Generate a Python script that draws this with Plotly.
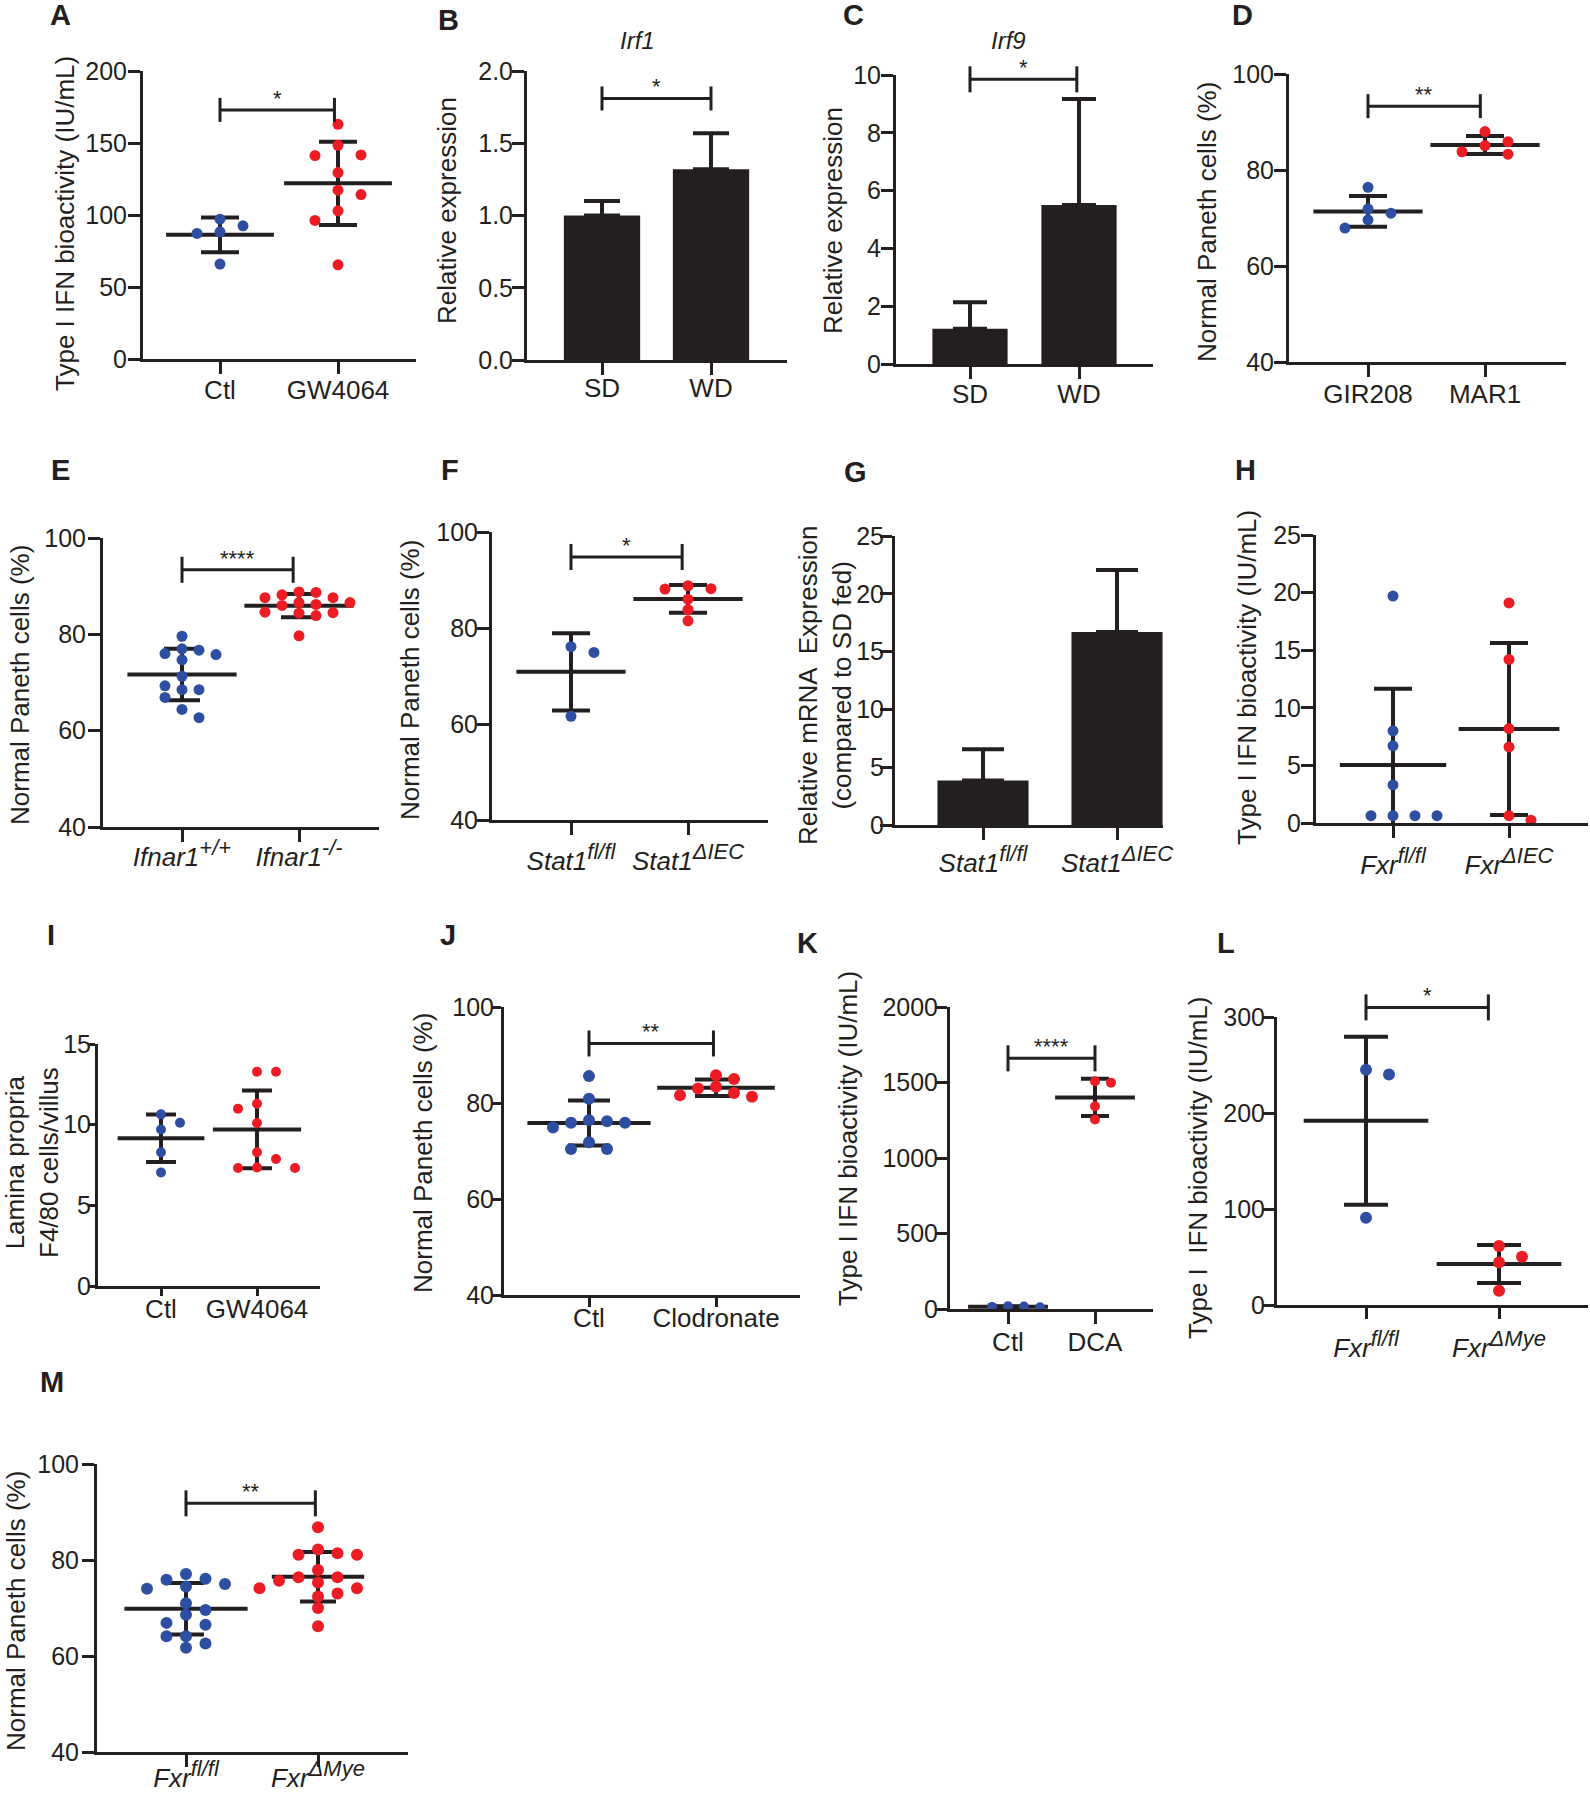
import numpy as np
import plotly.graph_objects as go

W, H = 1590, 1800
BLUE = '#2E4EA1'
RED = '#EC1C24'
INK = '#231F20'
FONT = 'Liberation Sans, Arial, Helvetica, sans-serif'


def gene(base, sup):
    """Italic gene symbol with a large italic superscript."""
    return '<i>%s</i><sup><span style="font-size:22px"><i>%s</i></span></sup>' % (base, sup)


# ------------------------------------------------------------------ data
A_groups = ['Ctl', 'GW4064']
A_ctl = [92.5, 97.1, 87.2, 88.3, 65.9]
A_gw4064 = [163.0, 148.4, 141.3, 141.7, 129.5, 117.2, 114.2, 102.9, 96.2, 65.4]

B_groups = ['SD', 'WD']
B_mean = [1.00, 1.32]
B_err = [0.10, 0.25]

C_groups = ['SD', 'WD']
C_mean = [1.22, 5.50]
C_err = [0.92, 3.67]

D_groups = ['GIR208', 'MAR1']
D_gir208 = [76.4, 71.9, 71.0, 69.6, 67.9]
D_mar1 = [88.0, 85.9, 85.1, 83.3, 83.8]

E_groups = [gene('Ifnar1', '+/+'), gene('Ifnar1', '-/-')]
E_wt = [79.6, 75.8, 76.0, 76.7, 77.0, 74.7, 71.3, 68.5, 69.3, 68.5, 66.9, 64.4, 62.7]
E_ko = [88.7, 88.8, 88.2, 87.6, 87.6, 86.6, 86.2, 86.6, 86.0, 84.5, 84.6, 84.4, 83.9, 79.7]

F_groups = [gene('Stat1', 'fl/fl'), gene('Stat1', 'ΔIEC')]
F_flfl = [76.1, 74.9, 61.6]
F_diec = [88.8, 88.2, 88.1, 86.0, 83.8, 81.5]

G_groups = [gene('Stat1', 'fl/fl'), gene('Stat1', 'ΔIEC')]
G_mean = [3.84, 16.7]
G_err = [2.71, 5.36]

H_groups = [gene('Fxr', 'fl/fl'), gene('Fxr', 'ΔIEC')]
H_flfl = [19.7, 8.0, 6.7, 3.3, 0.64, 0.64, 0.64, 0.64]
H_diec = [19.1, 14.2, 8.2, 6.6, 0.23, 0.64]

I_groups = ['Ctl', 'GW4064']
I_ctl = [10.64, 10.12, 9.70, 8.29, 7.04]
I_gw4064 = [13.28, 13.28, 11.30, 10.99, 10.1, 8.29, 7.87, 7.31, 7.31, 7.35]

J_groups = ['Ctl', 'Clodronate']
J_ctl = [85.6, 80.9, 75.9, 76.4, 76.2, 75.9, 74.9, 71.8, 70.4, 70.4]
J_clodronate = [85.8, 85.0, 83.4, 83.0, 81.6, 82.1, 81.3]

K_groups = ['Ctl', 'DCA']
K_ctl = [12, 16, 14, 18]
K_dca = [1499, 1508, 1343, 1255]

L_groups = [gene('Fxr', 'fl/fl'), gene('Fxr', 'ΔMye')]
L_flfl = [245, 240, 91]
L_dmye = [61.4, 50.3, 44.4, 14.9]

M_groups = [gene('Fxr', 'fl/fl'), gene('Fxr', 'ΔMye')]
M_flfl = [77.1, 74.5, 75.0, 75.9, 76.1, 74.0, 71.0, 69.6, 68.6, 66.9, 66.5, 64.1, 64.1, 62.6, 61.7]
M_dmye = [86.8, 82.2, 81.4, 81.1, 81.1, 77.9, 76.4, 76.4, 75.3, 75.7, 74.1, 74.1, 72.4, 73.0, 70.0, 66.2]

# significance labels and bracket levels (data units)
SIG = {'A': ('*', 173), 'B': ('*', 1.81), 'C': ('*', 9.85), 'D': ('**', 93.3),
       'E': ('****', 93.4), 'F': ('*', 94.8), 'J': ('**', 92.4), 'K': ('****', 1660),
       'L': ('*', 310), 'M': ('**', 91.8)}

TYPE1 = 'Type I IFN bioactivity (IU/mL)'
PANETH = 'Normal Paneth cells (%)'

# ------------------------------------------------------------------ layout geometry (pixels)
# ys / xs: tick-label standoff tweaks for y and x axes; tl: tick length
PANELS = [
    dict(key='A', kind='dot', groups=A_groups, series=[A_ctl, A_gw4064],
         xl=143, xr=416, t0=220, t1=338, yt=71, yb=359, yr=(0, 200), dt=50,
         mw=[77, 77], cap=19, dot=11, step=23, bx=0.97, bh=12, ys=-4, xs=-6,
         ytitle=TYPE1, tpos=(65, 224), lpos=(60, 15)),
    dict(key='B', kind='bar', groups=B_groups, mean=B_mean, err=B_err, bw=0.70,
         xl=527, xr=787, t0=602, t1=711, yt=71, yb=360, yr=(0, 2), dt=0.5, fmt='.1f',
         cap=18, bx=1.0, bh=12, ys=-6, xs=-9, title='<i>Irf1</i>', ttl=(637, 40),
         ytitle='Relative expression', tpos=(447, 211), lpos=(448, 20)),
    dict(key='C', kind='bar', groups=C_groups, mean=C_mean, err=C_err, bw=0.69,
         xl=896, xr=1153, t0=970, t1=1079, yt=75, yb=364, yr=(0, 10), dt=2,
         cap=17, bx=0.98, bh=13, ys=-5, xs=-7, title='<i>Irf9</i>', ttl=(1008, 40),
         ytitle='Relative expression', tpos=(833, 221), lpos=(853, 15)),
    dict(key='D', kind='dot', groups=D_groups, series=[D_gir208, D_mar1],
         xl=1289, xr=1566, t0=1368, t1=1485, yt=74, yb=362, yr=(40, 100), dt=20,
         mw=[78, 78], cap=19, dot=11, step=23, bx=0.96, bh=12, ys=-5, xs=-5,
         ytitle=PANETH, tpos=(1207, 222), lpos=(1242, 15)),
    dict(key='E', kind='dot', groups=E_groups, series=[E_wt, E_ko],
         xl=103, xr=379, t0=182, t1=299, yt=538, yb=827, yr=(40, 100), dt=20,
         mw=[78, 78], cap=18, dot=11, step=17, bx=0.95, bh=13, ys=-3, xs=-7,
         ytitle=PANETH, tpos=(20, 685), lpos=(60, 470)),
    dict(key='F', kind='dot', groups=F_groups, series=[F_flfl, F_diec],
         xl=492, xr=768, t0=571, t1=688, yt=532, yb=820, yr=(40, 100), dt=20,
         mw=[78, 78], cap=19, dot=11, step=23, bx=0.95, bh=13, ys=-6, xs=4,
         ytitle=PANETH, tpos=(410, 680), lpos=(450, 470)),
    dict(key='G', kind='bar', groups=G_groups, mean=G_mean, err=G_err, bw=0.68,
         xl=895, xr=1163, t0=983, t1=1117, yt=536, yb=825, yr=(0, 25), dt=5,
         cap=21, ys=-9, xs=1, ytitle='Relative mRNA  Expression<br>(compared to SD fed)',
         tsize=26, tpos=(825, 686), lpos=(855, 472)),
    dict(key='H', kind='dot', groups=H_groups, series=[H_flfl, H_diec],
         xl=1316, xr=1588, t0=1393, t1=1509, yt=535, yb=823, yr=(0, 25), dt=5,
         mw=[76, 72], cap=19, dot=11, step=22, ys=-5, xs=5,
         ytitle=TYPE1, tpos=(1247, 678), lpos=(1245, 470)),
    dict(key='I', kind='dot', groups=I_groups, series=[I_ctl, I_gw4064],
         xl=98, xr=320, t0=161, t1=257, yt=1044, yb=1286, yr=(0, 15), dt=5,
         mw=[62, 63], cap=15, dot=10, step=19, ys=-8, xs=-9, tl=7,
         ytitle='Lamina propria<br>F4/80 cells/villus', tsize=26,
         tpos=(32, 1163), lpos=(51, 935)),
    dict(key='J', kind='dot', groups=J_groups, series=[J_ctl, J_clodronate],
         xl=504, xr=800, t0=589, t1=716, yt=1007, yb=1295, yr=(40, 100), dt=20,
         mw=[88, 84], cap=21, dot=12, step=18, bx=0.98, bh=13, ys=-7, xs=-11, tl=9,
         ytitle=PANETH, tpos=(423, 1153), lpos=(448, 935)),
    dict(key='K', kind='dot', groups=K_groups, series=[K_ctl, K_dca],
         xl=950, xr=1153, t0=1008, t1=1095, yt=1007, yb=1309, yr=(0, 2000), dt=500,
         mw=[57, 57], cap=14, dot=10, step=16, bx=1.0, bh=13, ys=-8, xs=-4,
         ytitle=TYPE1, tpos=(848, 1139), lpos=(807, 943)),
    dict(key='L', kind='dot', groups=L_groups, series=[L_flfl, L_dmye],
         xl=1277, xr=1588, t0=1366, t1=1499, yt=1017, yb=1305, yr=(0, 300), dt=100,
         mw=[89, 89], cap=22, dot=12, step=23, bx=0.92, bh=13, ys=-7, xs=7, tl=11,
         ytitle='Type I  IFN bioactivity (IU/mL)', tpos=(1198, 1168), lpos=(1226, 943)),
    dict(key='M', kind='dot', groups=M_groups, series=[M_flfl, M_dmye],
         xl=97, xr=408, t0=186, t1=318, yt=1464, yb=1752, yr=(40, 100), dt=20,
         mw=[88, 66], cap=18, dot=12, step=19.5, bx=0.98, bh=13, ys=-2, xs=-11,
         ytitle=PANETH, tpos=(16, 1611), lpos=(52, 1382)),
]


def swarm(values, px_y, step_units, dot):
    """Simple column beeswarm: returns x offsets (in x-axis units)."""
    vals = np.asarray(values, dtype=float)
    order = np.argsort(-vals, kind='stable')
    placed = []
    offs = np.zeros(len(vals))
    for i in order:
        yp = vals[i] * px_y
        cands = [0]
        for k in range(1, 30):
            right = sum(1 for c, _ in placed if c > 0)
            left = sum(1 for c, _ in placed if c < 0)
            cands += [k, -k] if right <= left else [-k, k]
        for k in cands:
            if all(not (c == k and abs(yp - py) < dot * 0.95) for c, py in placed):
                break
        placed.append((k, yp))
        offs[i] = k * step_units
    return offs


fig = go.Figure()
layout = dict(width=W, height=H, autosize=False,
              margin=dict(l=0, r=0, t=0, b=0, pad=0, autoexpand=False),
              paper_bgcolor='white', plot_bgcolor='rgba(0,0,0,0)', showlegend=False,
              font=dict(family=FONT, color=INK, size=24))
shapes, annots = [], []

for n, p in enumerate(PANELS, start=1):
    sfx = '' if n == 1 else str(n)
    xa, ya = 'x' + sfx, 'y' + sfx
    span = p['t1'] - p['t0']
    r0 = -(p['t0'] - p['xl']) / span
    r1 = 1 + (p['xr'] - p['t1']) / span
    y0, y1 = p['yr']
    px_y = (p['yb'] - p['yt']) / (y1 - y0)
    tl = p.get('tl', 12)

    tickvals = list(np.arange(y0, y1 + 1e-9, p['dt']))
    layout['xaxis' + sfx] = dict(
        domain=[p['xl'] / W, p['xr'] / W], range=[r0, r1], anchor=ya, automargin=False,
        tickmode='array', tickvals=[0, 1], ticktext=p['groups'],
        showline=True, linewidth=3, linecolor=INK, ticks='outside', ticklen=tl,
        tickwidth=3, tickcolor=INK, showgrid=False, zeroline=False,
        ticklabelstandoff=p.get('xs', 0),
        tickfont=dict(family=FONT, size=26, color=INK), fixedrange=True)
    layout['yaxis' + sfx] = dict(
        domain=[1 - p['yb'] / H, 1 - p['yt'] / H], range=[y0, y1], anchor=xa,
        automargin=False,
        tickmode='array', tickvals=tickvals, tickformat=p.get('fmt', ''),
        showline=True, linewidth=3, linecolor=INK, ticks='outside', ticklen=tl,
        tickwidth=3, tickcolor=INK, showgrid=False, zeroline=False,
        ticklabelstandoff=p.get('ys', 0),
        tickfont=dict(family=FONT, size=25, color=INK), fixedrange=True)

    if p['kind'] == 'bar':
        fig.add_trace(go.Bar(
            x=[0, 1], y=p['mean'], width=p['bw'], xaxis=xa, yaxis=ya,
            marker=dict(color=INK, line=dict(width=0)),
            error_y=dict(type='data', array=p['err'], arrayminus=[0, 0],
                         symmetric=False, thickness=4, width=p['cap'], color=INK)))
    else:
        colors = [BLUE, RED]
        for g, vals in enumerate(p['series']):
            v = np.asarray(vals, dtype=float)
            m, sd = v.mean(), v.std(ddof=1)
            fig.add_trace(go.Scatter(
                x=[g], y=[m], mode='markers', xaxis=xa, yaxis=ya, cliponaxis=False,
                marker=dict(symbol='line-ew', size=p['mw'][g], color=INK,
                            line=dict(width=4, color=INK)),
                error_y=dict(type='data', array=[sd], thickness=4,
                             width=p['cap'], color=INK)))
        for g, vals in enumerate(p['series']):
            offs = swarm(vals, px_y, p['step'] / span, p['dot'])
            fig.add_trace(go.Scatter(
                x=g + offs, y=vals, mode='markers', xaxis=xa, yaxis=ya,
                cliponaxis=False,
                marker=dict(size=p['dot'], color=colors[g], line=dict(width=0))))

    # significance bracket
    if p['key'] in SIG:
        txt, lvl = SIG[p['key']]
        fx0 = (0 - r0) / (r1 - r0)
        fx1 = (p['bx'] - r0) / (r1 - r0)
        fy = (lvl - y0) / (y1 - y0)
        dh = p['bh'] / (p['yb'] - p['yt'])
        xr_, yr_ = xa + ' domain', ya + ' domain'
        ln = dict(color=INK, width=3)
        shapes.append(dict(type='line', xref=xr_, yref=yr_, x0=fx0, x1=fx1, y0=fy, y1=fy, line=ln))
        for fx in (fx0, fx1):
            shapes.append(dict(type='line', xref=xr_, yref=yr_, x0=fx, x1=fx,
                               y0=fy - dh, y1=fy + dh, line=ln))
        annots.append(dict(xref=xr_, yref=yr_, x=(fx0 + fx1) / 2, y=fy, text=txt,
                           showarrow=False, xanchor='center', yanchor='bottom', yshift=-3,
                           font=dict(family=FONT, size=22, color=INK)))

    # y-axis title
    tx, ty = p['tpos']
    annots.append(dict(xref='paper', yref='paper', x=tx / W, y=1 - ty / H, text=p['ytitle'],
                       textangle=-90, showarrow=False, xanchor='center', yanchor='middle',
                       font=dict(family=FONT, size=p.get('tsize', 26), color=INK)))
    # panel letter
    lx, ly = p['lpos']
    annots.append(dict(xref='paper', yref='paper', x=lx / W, y=1 - ly / H,
                       text='<b>%s</b>' % p['key'], showarrow=False,
                       xanchor='center', yanchor='middle',
                       font=dict(family=FONT, size=29, color=INK)))
    if 'title' in p:
        tx2, ty2 = p['ttl']
        annots.append(dict(xref='paper', yref='paper', x=tx2 / W, y=1 - ty2 / H,
                           text=p['title'], showarrow=False, xanchor='center',
                           yanchor='middle', font=dict(family=FONT, size=24, color=INK)))

layout['shapes'] = shapes
layout['annotations'] = annots
fig.update_layout(**layout)
fig.write_html('out.html', config={'displayModeBar': False},
               post_script="document.body.style.margin='0';")
